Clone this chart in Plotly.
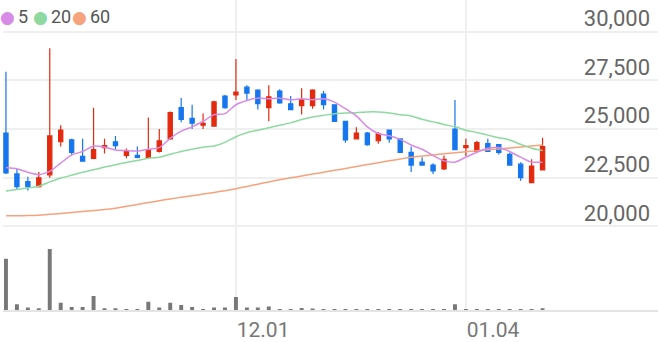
import plotly.graph_objects as go

dates = [
    "2020-11-02", "2020-11-03", "2020-11-04", "2020-11-05", "2020-11-06",
    "2020-11-09", "2020-11-10", "2020-11-11", "2020-11-12", "2020-11-13",
    "2020-11-16", "2020-11-17", "2020-11-18", "2020-11-19", "2020-11-20",
    "2020-11-23", "2020-11-24", "2020-11-25", "2020-11-26", "2020-11-27",
    "2020-11-30", "2020-12-01", "2020-12-02", "2020-12-03", "2020-12-04",
    "2020-12-07", "2020-12-08", "2020-12-09", "2020-12-10", "2020-12-11",
    "2020-12-14", "2020-12-15", "2020-12-16", "2020-12-17", "2020-12-18",
    "2020-12-21", "2020-12-22", "2020-12-23", "2020-12-24", "2020-12-28",
    "2020-12-29", "2020-12-30", "2021-01-04", "2021-01-05", "2021-01-06",
    "2021-01-07", "2021-01-08", "2021-01-11", "2021-01-12", "2021-01-13",
]

open_ = [24800, 22700, 22300, 22050, 22650, 24350, 24450, 23600, 23500, 24050,
         24350, 23650, 23650, 23550, 23850, 24500, 26100, 25550, 25200, 25150,
         26700, 26750, 27150, 27000, 26100, 26950, 26300, 26200, 26200, 26800,
         26250, 25400, 24500, 24800, 24400, 24950, 24500, 23800, 23300, 23150,
         22950, 25000, 24050, 23850, 24250, 24200, 23700, 23200, 22250, 22900]
high = [27950, 22950, 22550, 22800, 29150, 25200, 24500, 24500, 26100, 24500,
        24650, 24000, 24100, 25600, 25000, 25900, 26600, 26250, 25800, 26450,
        26750, 28600, 27250, 27050, 27250, 27050, 26700, 27100, 27050, 26950,
        26250, 25400, 25100, 24850, 24850, 24950, 24500, 24100, 23550, 23250,
        23650, 26500, 24500, 24400, 24500, 24200, 23800, 23300, 23450, 24550]
low = [22700, 21900, 21850, 22000, 22500, 24100, 23650, 23350, 23450, 23750,
       23950, 23500, 23500, 23500, 23800, 24450, 25350, 25000, 25000, 25150,
       26050, 26500, 26500, 26000, 25400, 26300, 26000, 25750, 26050, 26000,
       25400, 24300, 24500, 24150, 24250, 24300, 23800, 22800, 23150, 22700,
       22900, 23950, 23600, 23850, 23850, 23700, 23150, 22350, 22250, 22900]
close = [22750, 22050, 22050, 22500, 24650, 24950, 23800, 23350, 23950, 24150,
         24150, 23900, 23550, 23950, 24400, 25850, 25500, 25300, 25300, 26400,
         26100, 26900, 26850, 26300, 26650, 26350, 26000, 26500, 27000, 26250,
         25400, 24450, 24800, 24200, 24750, 24500, 23800, 23150, 23150, 22850,
         23450, 23950, 24150, 24300, 23850, 23800, 23150, 22500, 23100, 24100]

ma5 = [23034, 22963, 22780, 22658, 22831, 23252, 23674, 23847, 24131, 24081,
       23928, 23898, 23877, 23964, 24050, 24522, 24893, 25117, 25401, 25742,
       25792, 26250, 26468, 26590, 26554, 26590, 26504, 26554, 26504, 26554,
       26387, 26046, 25676, 25117, 24776, 24660, 24472, 24182, 23964, 23644,
       23369, 23303, 23557, 23811, 24014, 24050, 23847, 23557, 23303, 23303]
ma20 = [21815, 21896, 21982, 22069, 22287, 22490, 22628, 22780, 22912, 23049,
        23166, 23288, 23390, 23506, 23557, 23710, 23847, 23964, 24065, 24131,
        24319, 24609, 24812, 24944, 25066, 25198, 25320, 25488, 25625, 25706,
        25792, 25828, 25843, 25879, 25879, 25828, 25742, 25676, 25503, 25371,
        25234, 25117, 24944, 24827, 24690, 24558, 24436, 24218, 24014, 23898]
ma60 = [20545, 20550, 20560, 20575, 20621, 20667, 20718, 20768, 20819, 20865,
        20936, 21033, 21129, 21226, 21322, 21414, 21495, 21576, 21662, 21749,
        21835, 21937, 22054, 22170, 22287, 22399, 22496, 22592, 22689, 22785,
        22882, 22978, 23080, 23176, 23273, 23369, 23466, 23557, 23618, 23674,
        23730, 23781, 23832, 23882, 23933, 23984, 24035, 24086, 24136, 24182]

volume = [520000, 60000, 27000, 20000, 617000, 77000, 33000, 33000, 143000, 20000,
          20000, 10000, 7000, 87000, 27000, 77000, 53000, 33000, 10000, 27000,
          27000, 133000, 27000, 27000, 37000, 10000, 10000, 23000, 17000, 13000,
          10000, 10000, 10000, 10000, 10000, 10000, 10000, 10000, 10000, 10000,
          10000, 60000, 10000, 10000, 10000, 10000, 10000, 10000, 10000, 20000]

price_ticks = [20000, 22500, 25000, 27500, 30000]
date_ticks = ["2020-12-01", "2021-01-04"]
date_tick_labels = ["12.01", "01.04"]

ma_names = ["5", "20", "60"]
ma_colors = ["#d78be6", "#8ed9a0", "#f6a27c"]
UP = "#e3290e"
DOWN = "#1676ee"

W, H = 658, 342
split_px = 233
vol_bottom_px = 313
price_dom = [1 - split_px / H, 1.0]
vol_dom = [1 - vol_bottom_px / H, 1 - split_px / H]
x_range = [-0.27, 59.54]

fig = go.Figure()

for vals, col in zip([ma60, ma20, ma5], [ma_colors[2], ma_colors[1], ma_colors[0]]):
    fig.add_trace(go.Scatter(x=dates, y=vals, mode="lines",
                             line=dict(color=col, width=1.5, shape="spline", smoothing=0.6),
                             xaxis="x", yaxis="y", showlegend=False, hoverinfo="skip"))

fig.add_trace(go.Candlestick(
    x=dates, open=open_, high=high, low=low, close=close,
    increasing=dict(line=dict(color=UP, width=1.2), fillcolor=UP),
    decreasing=dict(line=dict(color=DOWN, width=1.2), fillcolor=DOWN),
    whiskerwidth=0, xaxis="x", yaxis="y", showlegend=False))

fig.add_trace(go.Bar(x=dates, y=volume, marker=dict(color="#787878", line=dict(width=0)),
                     xaxis="x2", yaxis="y2", showlegend=False))

# legend: coloured dots + labels
dot_px = [7, 40, 79]
text_px = [16, 49, 88]
leg_y = 1 - 17 / H
for name, col, dx, tx in zip(ma_names, ma_colors, dot_px, text_px):
    fig.add_annotation(text="●", xref="paper", yref="paper", x=dx / W, y=leg_y,
                       xanchor="center", yanchor="middle", showarrow=False,
                       font=dict(family="DejaVu Sans", size=17, color=col))
    fig.add_annotation(text=name, xref="paper", yref="paper", x=tx / W, y=leg_y,
                       xanchor="left", yanchor="middle", showarrow=False,
                       font=dict(family="Roboto", size=18, color="#555555"))

grid = "#efefef"
fig.update_layout(
    width=W, height=H, margin=dict(l=0, r=0, t=0, b=0),
    paper_bgcolor="white", plot_bgcolor="white",
    boxgap=0.45, bargap=0.64,
    font=dict(family="Roboto", color="#666666"),
    xaxis=dict(type="category", domain=[3 / W, 1], range=x_range,
               tickvals=date_ticks, ticktext=["", ""], showgrid=True,
               gridcolor=grid, gridwidth=1.5, showticklabels=False,
               rangeslider=dict(visible=False), anchor="y", zeroline=False),
    yaxis=dict(domain=price_dom, range=[19769, 31629], side="right",
               tickvals=price_ticks, tickformat=",", ticklabelposition="inside top",
               tickfont=dict(size=22, color="#666666"), gridcolor=grid, gridwidth=2,
               zeroline=False, showline=False, ticklabelstandoff=5,
               ticklabelshift=2, ticks=""),
    xaxis2=dict(type="category", domain=[3 / W, 1], range=x_range, matches="x",
                tickvals=date_ticks, ticktext=date_tick_labels,
                ticklabelposition="outside right", showgrid=True, gridcolor=grid,
                gridwidth=1.5, tickfont=dict(size=21, color="#777777"),
                showline=True, linecolor="#e4e4e4", linewidth=1.5,
                anchor="y2", zeroline=False, ticks=""),
    yaxis2=dict(domain=vol_dom, range=[0, 800000], showgrid=False,
                showticklabels=False, zeroline=False, anchor="x2"),
)

fig.write_html("out.html")
